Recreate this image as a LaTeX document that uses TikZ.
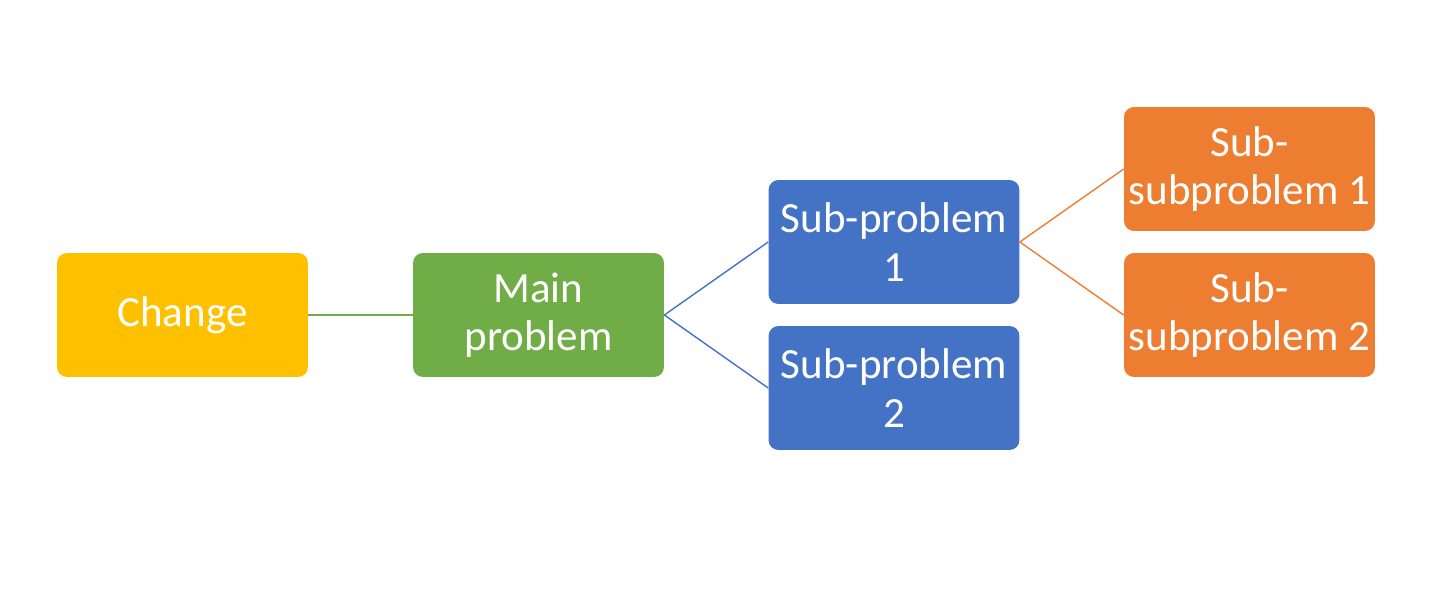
\documentclass[tikz,border=0pt]{standalone}
\usepackage{fontspec}
\setmainfont{Carlito}
\definecolor{chgyellow}{HTML}{FFC000}
\definecolor{probgreen}{HTML}{70AD47}
\definecolor{subblue}{HTML}{4472C4}
\definecolor{subsuborange}{HTML}{ED7D31}
\tikzset{
  probbox/.style={rectangle, rounded corners=0.2cm, minimum width=5.02cm, minimum height=2.48cm,
    text=white, align=center, font=\fontsize{24.5}{27.5}\selectfont, inner sep=0pt},
  link/.style={line width=0.8pt}
}
\begin{document}
\begin{tikzpicture}[x=0.02cm, y=-0.02cm]
  \useasboundingbox (0,0) rectangle (1450,592);
  \node[probbox, fill=chgyellow] (change) at (182.5,315) {Change};
  \node[probbox, fill=probgreen] (main) at (538.5,315) {Main\\problem};
  \node[probbox, fill=subblue] (sub1) at (894,242) {Sub-problem\\1};
  \node[probbox, fill=subblue] (sub2) at (894,388) {Sub-problem\\2};
  \node[probbox, fill=subsuborange] (subsub1) at (1249.5,169) {Sub-\\subproblem 1};
  \node[probbox, fill=subsuborange] (subsub2) at (1249.5,315) {Sub-\\subproblem 2};
  % connectors
  \draw[link, probgreen] (change.east) -- (main.west);
  \draw[link, subblue] (main.east) -- (sub1.west);
  \draw[link, subblue] (main.east) -- (sub2.west);
  \draw[link, subsuborange] (sub1.east) -- (subsub1.west);
  \draw[link, subsuborange] (sub1.east) -- (subsub2.west);
\end{tikzpicture}
\end{document}
